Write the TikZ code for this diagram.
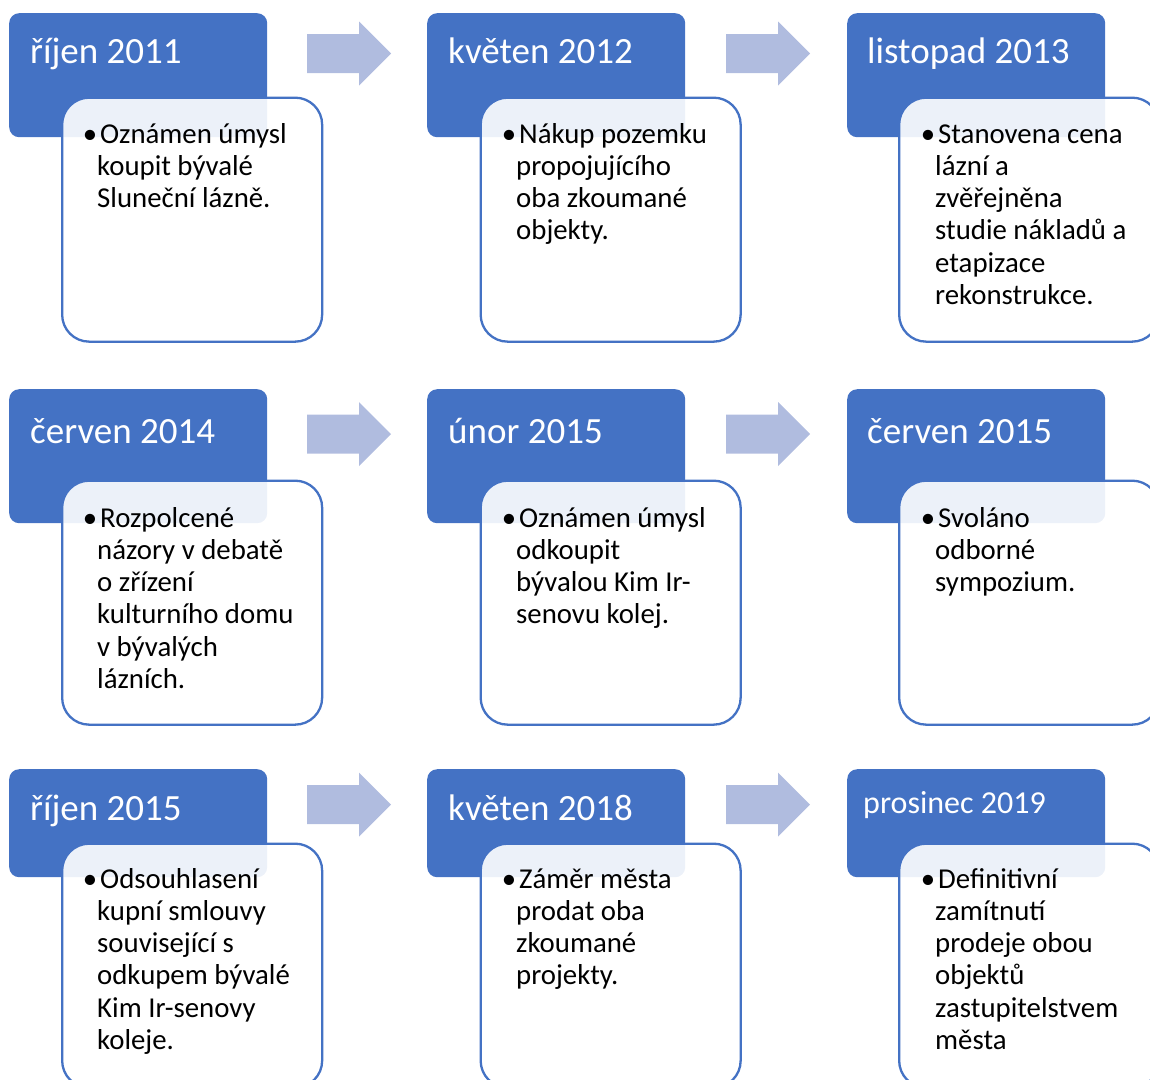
\documentclass[tikz,border=0pt]{standalone}
\usepackage{fontspec}
\setmainfont{Carlito}
\definecolor{hblue}{HTML}{4472C4}
\definecolor{ablue}{HTML}{B0BCDF}
\tikzset{
  hdr/.style={fill=hblue, rounded corners=10pt, inner sep=0pt, anchor=north west, minimum width=258pt},
  card/.style={draw=hblue, line width=2.3pt, fill=white, fill opacity=0.9, rounded corners=27pt, inner sep=0pt, anchor=north west, minimum width=260pt, minimum height=244pt},
  hdrtxt/.style={text=white, font=\fontsize{37}{44}\selectfont, anchor=base west, inner sep=0pt},
  hdrsmall/.style={text=white, font=\fontsize{32}{38}\selectfont, anchor=base west, inner sep=0pt},
  bodytxt/.style={text=black, anchor=base west, inner sep=0pt},
  blockarrow/.pic={\fill[ablue] (0,-19.5) -- (52,-19.5) -- (52,-32) -- (84,0) -- (52,32) -- (52,19.5) -- (0,19.5) -- cycle;}
}
\newcommand{\bodytext}[1]{\parbox[t]{240pt}{\fontsize{28.8}{32.3}\selectfont\raggedright\leavevmode\llap{•}\hspace{3pt}#1}}
\begin{document}
\begin{tikzpicture}[x=1pt,y=-1pt]
\useasboundingbox (0,0) rectangle (1150,1079);
\clip (0,0) rectangle (1150,1079);
% ---------- row 1 ----------
\node[hdr, minimum height=124pt] (h11) at (9,13) {};
\node[hdr, minimum height=124pt] (h12) at (427,13) {};
\node[hdr, minimum height=124pt] (h13) at (847,13) {};
\node[card] (c11) at (61,96.5) {};
\node[card] (c12) at (479.5,96.5) {};
\node[card] (c13) at (898,96.5) {};
\node[hdrtxt] (t11) at (30,63) {říjen 2011};
\node[hdrtxt] (t12) at (448,63) {květen 2012};
\node[hdrtxt] (t13) at (867,63) {listopad 2013};
\node[bodytxt] (b11) at (97,143) {\bodytext{Oznámen úmysl\\koupit bývalé\\Sluneční lázně.}};
\node[bodytxt] (b12) at (516,143) {\bodytext{Nákup pozemku\\propojujícího\\oba zkoumané\\objekty.}};
\node[bodytxt] (b13) at (935,143) {\bodytext{Stanovena cena\\lázní a\\zvěřejněna\\studie nákladů a\\etapizace\\rekonstrukce.}};
\pic at (307,53.5) {blockarrow};
\pic at (726,53.5) {blockarrow};
% ---------- row 2 ----------
\node[hdr, minimum height=134pt] (h21) at (9,389) {};
\node[hdr, minimum height=134pt] (h22) at (427,389) {};
\node[hdr, minimum height=134pt] (h23) at (847,389) {};
\node[card] (c21) at (61,479.5) {};
\node[card] (c22) at (479.5,479.5) {};
\node[card] (c23) at (898,479.5) {};
\node[hdrtxt] (t21) at (30,443) {červen 2014};
\node[hdrtxt] (t22) at (448,443) {únor 2015};
\node[hdrtxt] (t23) at (867,443) {červen 2015};
\node[bodytxt] (b21) at (97,527) {\bodytext{Rozpolcené\\názory v debatě\\o zřízení\\kulturního domu\\v bývalých\\lázních.}};
\node[bodytxt] (b22) at (516,527) {\bodytext{Oznámen úmysl\\odkoupit\\bývalou Kim Ir-\\senovu kolej.}};
\node[bodytxt] (b23) at (935,527) {\bodytext{Svoláno\\odborné\\sympozium.}};
\pic at (307,434) {blockarrow};
\pic at (726,434) {blockarrow};
% ---------- row 3 ----------
\node[hdr, minimum height=108pt] (h31) at (9,769) {};
\node[hdr, minimum height=108pt] (h32) at (427,769) {};
\node[hdr, minimum height=108pt] (h33) at (847,769) {};
\node[card] (c31) at (61,842.5) {};
\node[card] (c32) at (479.5,842.5) {};
\node[card] (c33) at (898,842.5) {};
\node[hdrtxt] (t31) at (30,820) {říjen 2015};
\node[hdrtxt] (t32) at (448,820) {květen 2018};
\node[hdrsmall] (t33) at (863,813) {prosinec 2019};
\node[bodytxt] (b31) at (97,888) {\bodytext{Odsouhlasení\\kupní smlouvy\\související s\\odkupem bývalé\\Kim Ir-senovy\\koleje.}};
\node[bodytxt] (b32) at (516,888) {\bodytext{Záměr města\\prodat oba\\zkoumané\\projekty.}};
\node[bodytxt] (b33) at (935,888) {\bodytext{Definitivní\\zamítnutí\\prodeje obou\\objektů\\zastupitelstvem\\města}};
\pic at (307,804.5) {blockarrow};
\pic at (726,804.5) {blockarrow};
\end{tikzpicture}
\end{document}
